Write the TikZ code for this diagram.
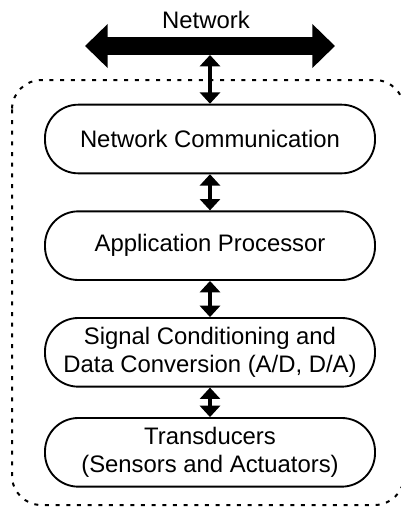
\documentclass[tikz,border=0pt]{standalone}
\usepackage{fontspec}
\setmainfont{Liberation Sans}
\usetikzlibrary{arrows.meta, positioning}

\begin{document}
\begin{tikzpicture}[x=0.75pt,y=-0.75pt,node distance=80pt,on grid,
        layer/.style={draw, line width=1.4pt, rounded corners=25pt,
            minimum width=247.5pt, minimum height=51.5pt, align=center,
            font=\fontsize{17.9}{21}\selectfont},
        link/.style={line width=2.6pt,
            {Triangle[length=8.5pt,width=15pt]}-{Triangle[length=8.5pt,width=15pt]}},
        bus/.style={line width=13.5pt,
            {Triangle[length=17pt,width=32pt]}-{Triangle[length=17pt,width=32pt]}}]
        \useasboundingbox (0,0) rectangle (400,507);

        % node boundary
        \draw[line width=1.5pt, dash pattern=on 3pt off 5pt, rounded corners=22pt]
            (12,80) rectangle (404,505);

        \node                (net)   at (206,20)           {\fontsize{17.9}{21}\selectfont Network};
        \coordinate          (netL)  at (85,46);
        \coordinate          (netR)  at (335,46);
        \coordinate          (tap)   at (210,55);

        \node[layer]         (comm)  at (210,139)          {Network Communication};
        \node[layer]         (proc)  [below=80pt of comm]  {Application Processor};
        \node[layer]         (conv)  [below=80pt of proc]  {Signal Conditioning and\\Data Conversion (A/D, D/A)};
        \node[layer]         (trans) [below=75pt of conv]  {Transducers\\(Sensors and Actuators)};

        \draw[bus]  (netL) -- (netR);
        \draw[link] (tap) -- (comm.north);
        \draw[link] (comm) -- (proc);
        \draw[link] (proc) -- (conv);
        \draw[link] (conv) -- (trans);
    \end{tikzpicture}
\end{document}
